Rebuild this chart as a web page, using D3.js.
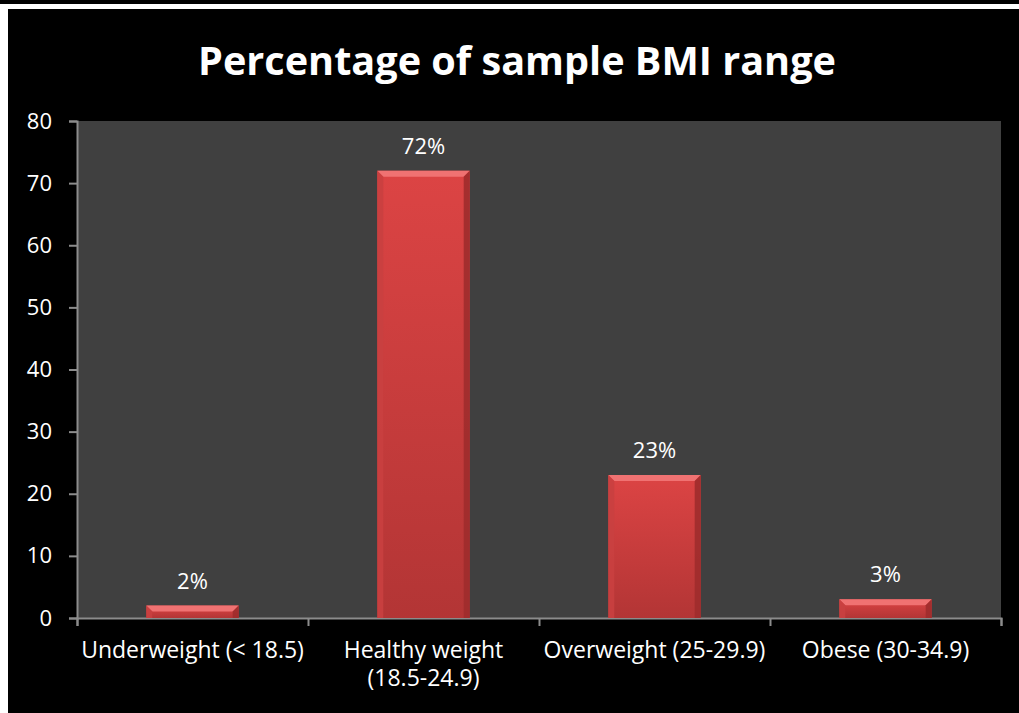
<!DOCTYPE html>
<html>
<head>
<meta charset="utf-8">
<script src="https://cdn.jsdelivr.net/npm/d3@7"></script>
<style>
  html, body { margin: 0; padding: 0; background: #000; }
  svg { display: block; }
</style>
</head>
<body>
<div id="app"></div>
<script>
// chart data
const categories = ["Underweight (< 18.5)", "Healthy weight (18.5-24.9)", "Overweight (25-29.9)", "Obese (30-34.9)"];
const categoryLines = [["Underweight (< 18.5)"], ["Healthy weight", "(18.5-24.9)"], ["Overweight (25-29.9)"], ["Obese (30-34.9)"]];
const values = [2, 72, 23, 3];
const valueLabels = ["2%", "72%", "23%", "3%"];
const yTicks = [0, 10, 20, 30, 40, 50, 60, 70, 80];
const title = "Percentage of sample BMI range";

const W = 1019, H = 713;
const font = "'Open Sans', 'Liberation Sans', sans-serif";
const plot = {left: 77, right: 1001, top: 121, bottom: 618};

const svg = d3.select("#app").append("svg")
    .attr("width", W)
    .attr("height", H);

// frame: black page with thin white strip top + left
svg.append("rect").attr("width", W).attr("height", H).attr("fill", "#000");
svg.append("rect").attr("x", 0).attr("y", 4).attr("width", W).attr("height", 5).attr("fill", "#fff");
svg.append("rect").attr("x", 0).attr("y", 4).attr("width", 8).attr("height", H - 4).attr("fill", "#fff");

// plot background
svg.append("rect")
    .attr("x", plot.left).attr("y", plot.top)
    .attr("width", plot.right - plot.left).attr("height", plot.bottom - plot.top)
    .attr("fill", "#404040");

var x = d3.scaleBand()
    .domain(categories)
    .range([plot.left, plot.right])
    .paddingInner(0.6)
    .paddingOuter(0.3);

var y = d3.scaleLinear()
    .domain([0, 80])
    .range([plot.bottom, plot.top]);

// y axis
var gy = svg.append("g")
    .attr("transform", "translate(" + plot.left + ",0)")
    .call(d3.axisLeft(y).tickValues(yTicks).tickSize(8).tickPadding(17));
gy.select(".domain").attr("stroke", "#8c8c8c").attr("stroke-width", 2);
gy.selectAll(".tick line").attr("stroke", "#8c8c8c").attr("stroke-width", 2);
gy.selectAll(".tick text")
    .attr("fill", "#fff")
    .style("font-family", font)
    .style("font-size", "22px");

// x axis: boundary ticks between categories
var xb = d3.scaleLinear().domain([0, categories.length]).range([plot.left, plot.right]);
var gx = svg.append("g")
    .attr("transform", "translate(0," + plot.bottom + ")")
    .call(d3.axisBottom(xb).ticks(categories.length).tickSize(8).tickFormat(function() { return ""; }).tickSizeOuter(8));
gx.select(".domain").attr("stroke", "#8c8c8c").attr("stroke-width", 2);
gx.selectAll(".tick line").attr("stroke", "#8c8c8c").attr("stroke-width", 2);

// category labels
var gl = svg.append("g")
    .attr("transform", "translate(0," + plot.bottom + ")")
    .call(d3.axisBottom(x).tickSize(0).tickFormat(function() { return ""; }));
gl.select(".domain").remove();
gl.selectAll(".tick text").each(function(d, i) {
  var t = d3.select(this)
      .attr("y", 0)
      .attr("fill", "#fff")
      .attr("dy", null)
      .style("font-family", font)
      .style("font-size", "23px");
  categoryLines[i].forEach(function(line, k) {
    t.append("tspan").attr("x", 0).attr("y", 40 + k * 28).text(line);
  });
});

// bars with bevel
var defs = svg.append("defs");
var grad = defs.append("linearGradient").attr("id", "barFill")
    .attr("x1", 0).attr("y1", 0).attr("x2", 0).attr("y2", 1);
grad.append("stop").attr("offset", "0%").attr("stop-color", "#dc4444");
grad.append("stop").attr("offset", "100%").attr("stop-color", "#b33535");

var bars = svg.append("g").selectAll("g")
    .data(values)
    .join("g");

bars.each(function(v, i) {
  var g = d3.select(this);
  var x0 = x(categories[i]), w = x.bandwidth();
  var y0 = y(v), h = y(0) - y(v);
  var b = Math.min(6, h / 2);
  g.append("rect").attr("x", x0).attr("y", y0).attr("width", w).attr("height", h).attr("fill", "url(#barFill)");
  // top bevel
  g.append("path").attr("d", d3.line()([[x0, y0], [x0 + w, y0], [x0 + w - b, y0 + b], [x0 + b, y0 + b]]))
      .attr("fill", "#f07272");
  // left bevel
  g.append("path").attr("d", d3.line()([[x0, y0], [x0 + b, y0 + b], [x0 + b, y0 + h], [x0, y0 + h]]))
      .attr("fill", "#c94040").attr("opacity", 0.9);
  // right bevel
  g.append("path").attr("d", d3.line()([[x0 + w, y0], [x0 + w - b, y0 + b], [x0 + w - b, y0 + h], [x0 + w, y0 + h]]))
      .attr("fill", "#9e2c2c").attr("opacity", 0.9);
  // value label
  g.append("text")
      .attr("x", x0 + w / 2)
      .attr("y", y0 - 17)
      .attr("text-anchor", "middle")
      .attr("fill", "#fff")
      .style("font-family", font)
      .style("font-size", "22px")
      .text(valueLabels[i]);
});

// title, sized to fit the reference width
var tt = svg.append("text")
    .attr("x", 517)
    .attr("y", 75)
    .attr("text-anchor", "middle")
    .attr("fill", "#fff")
    .style("font-family", font)
    .style("font-weight", "bold")
    .style("font-size", "36px")
    .text(title);
var tw = tt.node().getComputedTextLength();
tt.style("font-size", (36 * 638 / tw) + "px");
</script>
</body>
</html>
